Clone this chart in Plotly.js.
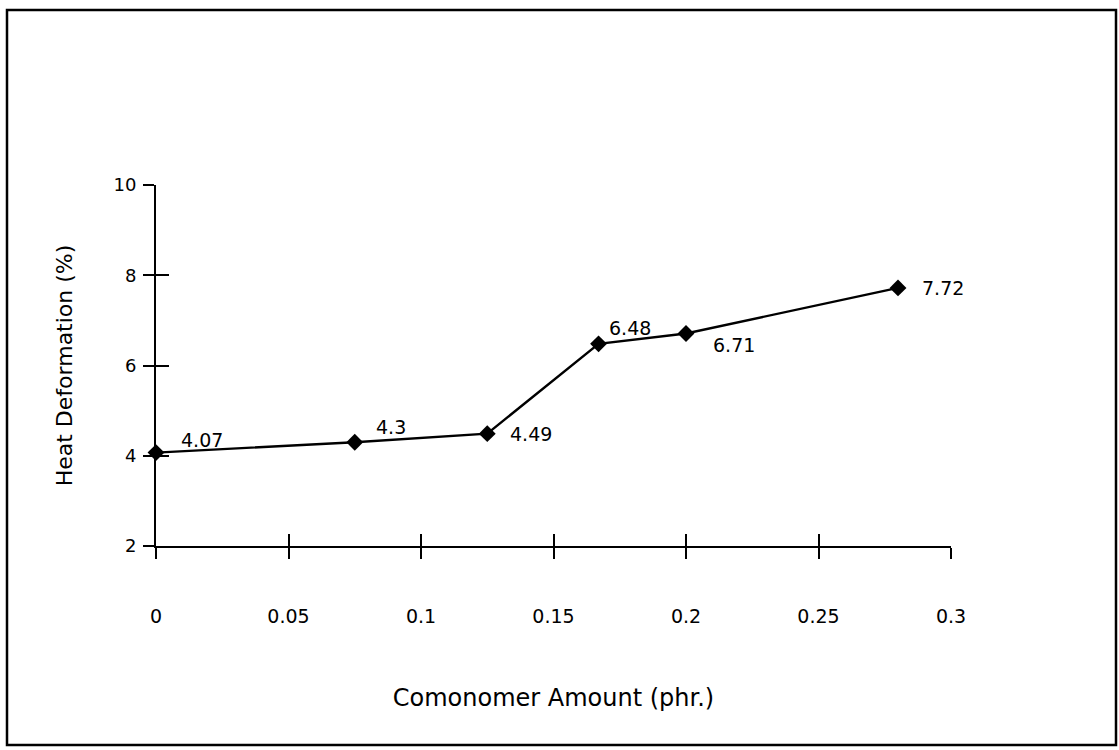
<!DOCTYPE html>
<html><head><meta charset="utf-8">
<script src="https://cdn.plot.ly/plotly-3.0.1.min.js"></script>
<style>body{margin:0;background:#fff}#chart{width:1119px;height:750px}</style>
</head><body><div id="chart"></div>
<script>
// ---- data ----
const comonomerAmount = [0, 0.075, 0.125, 0.167, 0.2, 0.28];
const heatDeformation = [4.07, 4.3, 4.49, 6.48, 6.71, 7.72];
const pointLabels = ['4.07', '4.3', '4.49', '6.48', '6.71', '7.72'];
const xTickVals = [0, 0.05, 0.1, 0.15, 0.2, 0.25, 0.3];
const xTickText = ['0', '0.05', '0.1', '0.15', '0.2', '0.25', '0.3'];
const yTickVals = [2, 4, 6, 8, 10];
const yTickText = ['2', '4', '6', '8', '10'];

// ---- label offsets (style) ----
const labelShiftX = [23, 19, 21, 8, 25, 22];
const labelShiftY = [13, 15, 0, 16, -12, 0];

const FONT = 'DejaVu Sans, Liberation Sans, Arial, sans-serif';
const W = 1119, H = 750;
const M = {l: 156, r: 168, t: 185, b: 204};
const pw = W - M.l - M.r, ph = H - M.t - M.b;
const px2x = p => (p - M.l) / pw;
const py2y = p => (H - M.b - p) / ph;

const traces = [
  {
    x: comonomerAmount, y: heatDeformation,
    type: 'scatter', mode: 'lines+markers',
    line: {color: '#000', width: 2.4},
    marker: {symbol: 'diamond', size: 13, color: '#000'},
    cliponaxis: false, hoverinfo: 'skip', showlegend: false
  },
  {
    x: comonomerAmount, y: heatDeformation,
    xaxis: 'x2', yaxis: 'y2',
    type: 'scatter', mode: 'none',
    hoverinfo: 'skip', showlegend: false
  }
];

const annotations = comonomerAmount.map((xv, i) => ({
  x: xv, y: heatDeformation[i], xref: 'x', yref: 'y',
  text: pointLabels[i], showarrow: false,
  xanchor: 'left', yanchor: 'middle',
  xshift: labelShiftX[i], yshift: labelShiftY[i],
  font: {family: FONT, size: 19, color: '#000'}
}));

const layout = {
  width: W, height: H,
  margin: M,
  paper_bgcolor: '#fff', plot_bgcolor: '#fff',
  showlegend: false,
  font: {family: FONT, color: '#000'},
  xaxis: {
    range: [0, 0.3], showgrid: false, zeroline: false,
    showline: true, linecolor: '#000', linewidth: 2,
    ticks: 'outside', ticklen: 11, tickwidth: 2, tickcolor: '#000',
    tickmode: 'array', tickvals: xTickVals, ticktext: xTickText,
    tickfont: {family: FONT, size: 19, color: '#000'},
    ticklabelstandoff: 41,
    title: {text: 'Comonomer Amount (phr.)', font: {family: FONT, size: 24, color: '#000'}, standoff: 63}
  },
  yaxis: {
    range: [2, 10], showgrid: false, zeroline: false,
    showline: true, linecolor: '#000', linewidth: 2,
    ticks: 'outside', ticklen: 11, tickwidth: 2, tickcolor: '#000',
    tickmode: 'array', tickvals: yTickVals, ticktext: yTickText,
    tickfont: {family: FONT, size: 18, color: '#000'},
    ticklabelstandoff: 3,
    title: {text: 'Heat Deformation (%)', font: {family: FONT, size: 22, color: '#000'}, standoff: 35}
  },
  xaxis2: {
    overlaying: 'x', anchor: 'y2', range: [0, 0.3],
    showgrid: false, zeroline: false, showline: false,
    ticks: 'inside', ticklen: 12, tickwidth: 2, tickcolor: '#000',
    tickmode: 'array', tickvals: xTickVals, showticklabels: false
  },
  yaxis2: {
    overlaying: 'y', anchor: 'x2', range: [2, 10],
    showgrid: false, zeroline: false, showline: false,
    ticks: 'inside', ticklen: 13, tickwidth: 2, tickcolor: '#000',
    tickmode: 'array', tickvals: yTickVals, showticklabels: false
  },
  annotations: annotations,
  shapes: [{
    type: 'rect', xref: 'paper', yref: 'paper',
    x0: px2x(7), x1: px2x(1116), y0: py2y(745), y1: py2y(10),
    line: {color: '#000', width: 2.5}, fillcolor: 'rgba(0,0,0,0)', layer: 'below'
  }]
};

Plotly.newPlot('chart', traces, layout, {displayModeBar: false, staticPlot: true});
</script>
</body></html>
